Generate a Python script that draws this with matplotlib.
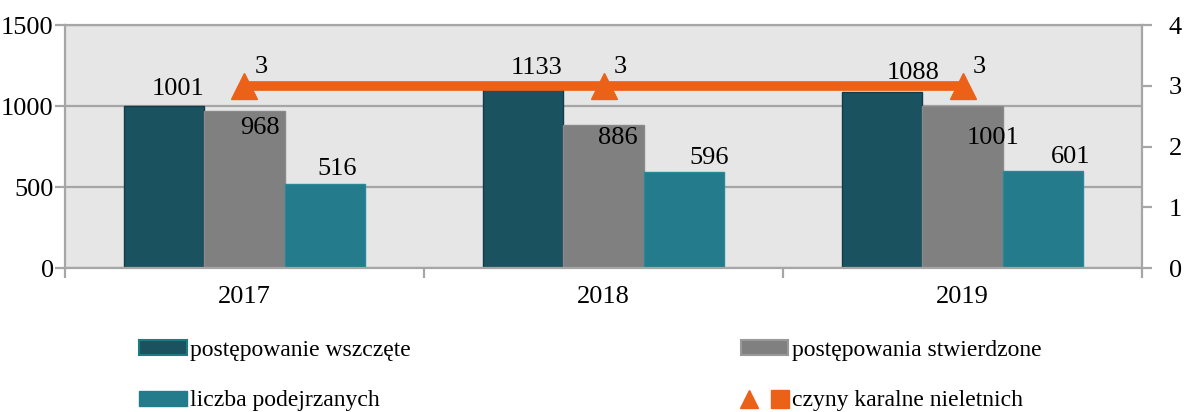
import numpy as np
import matplotlib.pyplot as plt
from matplotlib.patches import Patch
from matplotlib.lines import Line2D
from matplotlib.legend_handler import HandlerTuple

plt.rcParams['font.family'] = ['Liberation Serif', 'DejaVu Serif']

years = ['2017', '2018', '2019']
wszczete = [1001, 1133, 1088]
stwierdzone = [968, 886, 1001]
podejrzani = [516, 596, 601]
czyny = [3, 3, 3]

c_dark = '#1a5260'
c_grey = '#808080'
c_teal = '#237b8c'
c_orange = '#ec6118'
c_grid = '#a6a6a6'

fig = plt.figure(figsize=(12.01, 4.12), dpi=100)
ax = fig.add_axes([0.054, 0.3495, 0.897, 0.5895])
ax.set_facecolor('#e6e6e6')

x = np.arange(len(years))
w = 0.224
ax.bar(x - w, wszczete, w, color=c_dark, edgecolor='#123c47', linewidth=1, zorder=2)
ax.bar(x, stwierdzone, w, color=c_grey, edgecolor='#8a8a8a', linewidth=1, zorder=2)
ax.bar(x + w, podejrzani, w, color=c_teal, edgecolor='#2b8898', linewidth=1, zorder=2)

ax.set_xlim(-0.5, 2.5)
ax.set_ylim(0, 1500)
ax.set_yticks([0, 500, 1000, 1500])
ax.grid(axis='y', color=c_grid, linewidth=1.6, zorder=1)
ax.set_xticks(x)
ax.set_xticklabels(years)
ax.set_xticks([-0.5, 0.5, 1.5, 2.5], minor=True)
ax.tick_params(axis='x', which='major', length=0, pad=13, labelsize=19)
ax.tick_params(axis='x', which='minor', length=7, width=1.6, color=c_grid)
ax.tick_params(axis='y', length=7, width=1.6, color=c_grid, labelsize=19, pad=1)
for s in ax.spines.values():
    s.set_color(c_grid)
    s.set_linewidth(1.6)

# label offsets in points (Excel placed them a bit irregularly)
off1 = [(10, 4), (10, 4), (22, 6)]
off2 = [(11, -4), (10, -2), (22, -15)]
off3 = [(9, 3), (18, 2), (20, 2)]
for i in range(3):
    ax.annotate(str(wszczete[i]), (x[i] - w, wszczete[i]), xytext=off1[i],
                textcoords='offset points', ha='center', va='bottom', fontsize=19)
    ax.annotate(str(stwierdzone[i]), (x[i], stwierdzone[i]), xytext=off2[i],
                textcoords='offset points', ha='center', va='top', fontsize=19)
    ax.annotate(str(podejrzani[i]), (x[i] + w, podejrzani[i]), xytext=off3[i],
                textcoords='offset points', ha='center', va='bottom', fontsize=19)

ax2 = ax.twinx()
ax2.set_ylim(0, 4)
ax2.set_yticks([0, 1, 2, 3, 4])
ax2.tick_params(axis='y', length=7, width=1.6, color=c_grid, labelsize=19, pad=12)
for s in ax2.spines.values():
    s.set_visible(False)
ax2.plot(x, czyny, color=c_orange, linewidth=7, marker='^', markersize=19,
         zorder=3, solid_capstyle='butt')
for i in range(3):
    ax2.annotate(str(czyny[i]), (x[i], czyny[i]), xytext=(12, 6),
                 textcoords='offset points', ha='center', va='bottom', fontsize=19)

h1 = Patch(facecolor=c_dark, edgecolor='#1b7d80', linewidth=1.5)
h2 = Patch(facecolor=c_grey, edgecolor='#999999', linewidth=1.5)
h3 = Patch(facecolor=c_teal, edgecolor=c_teal)
tri = Line2D([], [], color=c_orange, marker='^', linestyle='none', markersize=13)
sq = Line2D([], [], color=c_orange, marker='s', linestyle='none', markersize=13)

kw = dict(frameon=False, fontsize=17, handlelength=2.0, handleheight=0.6,
          labelspacing=1.25, handletextpad=0.15, borderaxespad=0, borderpad=0)
fig.legend([h1, h3], ['postępowanie wszczęte', 'liczba podejrzanych'],
           loc='upper left', bbox_to_anchor=(0.116, 0.175), **kw)
fig.legend([h2, (tri, sq)], ['postępowania stwierdzone', 'czyny karalne nieletnich'],
           loc='upper left', bbox_to_anchor=(0.617, 0.175),
           handler_map={tuple: HandlerTuple(ndivide=None, pad=0.6)}, **kw)

fig.savefig('out.png', dpi=100)
